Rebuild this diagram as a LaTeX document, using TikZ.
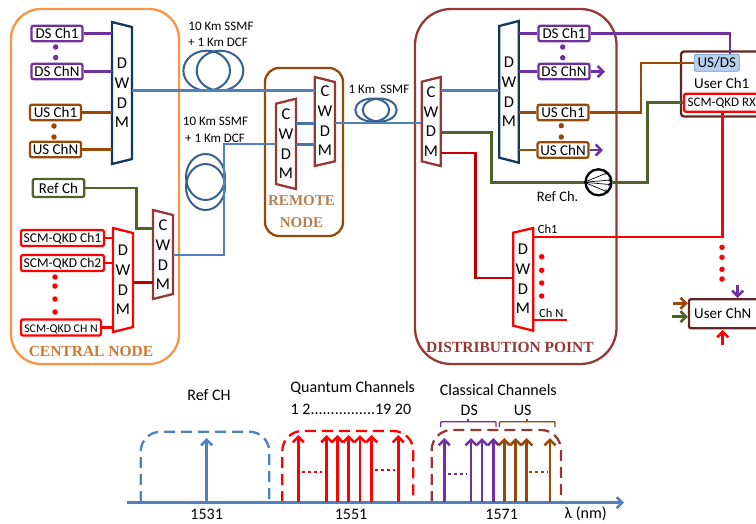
\documentclass[tikz,border=0pt]{standalone}
\usepackage{fontspec}
\setmainfont{Carlito}
\newfontfamily\titlefont{Liberation Serif}
\usetikzlibrary{arrows.meta}
\definecolor{dspurple}{HTML}{7030A0}
\definecolor{usbrown}{HTML}{984807}
\definecolor{refgreen}{HTML}{4F6228}
\definecolor{wine}{HTML}{953735}
\definecolor{navyc}{HTML}{17365D}
\definecolor{orangec}{HTML}{F79646}
\definecolor{bluec}{HTML}{4F81BD}
\definecolor{coilc}{HTML}{376092}
\definecolor{darkredc}{HTML}{C00000}
\definecolor{userc}{HTML}{632523}
\definecolor{usdsfill}{HTML}{B9CFF0}
\tikzset{
  chbox/.style={draw,rounded corners=2pt,line width=2.3pt,fill=white,inner sep=0pt,minimum height=15.5pt,text height=10pt,text depth=0pt,font=\fontsize{15}{15}\selectfont},
  scmbox/.style={chbox,draw=red,font=\fontsize{13.5}{14}\selectfont,text height=9pt,minimum height=16pt},
  muxtext/.style={inner sep=0pt,minimum width=20pt,align=center,font=\fontsize{16.5}{19.7}\selectfont},
  muxline/.style={line width=2.3pt,line join=miter,fill=white},
  dot/.style={fill,circle,inner sep=0pt,minimum size=5.5pt},
  link/.style={line width=2.6pt},
  coil/.style={draw=coilc,line width=2pt},
  tip/.style={-{Straight Barb[length=5.5pt,width=11pt,line width=2.6pt]}},
  lbl/.style={inner sep=0pt,font=\fontsize{13}{14}\selectfont},
  spec/.style={inner sep=0pt,font=\fontsize{16}{17}\selectfont},
  title/.style={inner sep=0pt,font=\titlefont\bfseries\fontsize{15.5}{16}\selectfont},
  rail/.style={line width=2.3pt,dash pattern=on 11pt off 6pt,rounded corners=20pt},
  gap/.style={line width=2.3pt,dash pattern=on 3pt off 3pt},
}
\begin{document}
\begin{tikzpicture}[x=1pt,y=-1pt]
\useasboundingbox (0,0) rectangle (756,523);
\clip (0,0) rectangle (756,523);
\draw[orangec,line width=2.3pt,rounded corners=30pt] (11,9) rectangle (179,364);
\draw[usbrown,line width=2.3pt,rounded corners=14pt] (265,68) rectangle (343,236);
\draw[wine,line width=2.3pt,rounded corners=36pt] (415,9) rectangle (616.5,364);
\node[title,text=orangec!60!usbrown] (centraltxt) at (91,351) {CENTRAL NODE};
\node[title,text=usbrown!70!white,font=\titlefont\bfseries\fontsize{15}{16}\selectfont] (remotetxt) at (301.5,201) {REMOTE};
\node[title,text=usbrown!70!white,font=\titlefont\bfseries\fontsize{15}{16}\selectfont] (remotetxtb) at (301.5,223) {NODE};
\node[title,text=wine] (disttxt) at (510,347) {DISTRIBUTION POINT};

\draw[coil] (206.7,70.7) ellipse [x radius=23.3pt,y radius=20pt];
\draw[coil] (220,70.7) ellipse [x radius=23.3pt,y radius=20pt];
\draw[coil] (205.5,177) ellipse [x radius=19.5pt,y radius=23pt];
\draw[coil] (205.5,187) ellipse [x radius=19.5pt,y radius=23pt];
\draw[coil] (372.3,110) ellipse [x radius=17pt,y radius=11.5pt];
\draw[coil] (379.7,110) ellipse [x radius=17pt,y radius=11.5pt];
\node[lbl] (spanAa) at (221,26) {10 Km SSMF};
\node[lbl] (spanAb) at (218,42) {+ 1 Km DCF};
\node[lbl] (spanBa) at (215.5,121) {10 Km SSMF};
\node[lbl] (spanBb) at (215,138) {+ 1 Km DCF};
\node[lbl] (spanC) at (379,89.5) {1 Km\, SSMF};

\draw[muxline,draw=navyc] (112,22) -- (132,27) -- (132,159) -- (112,164) -- cycle;
\draw[muxline,draw=red] (113,228) -- (133,233) -- (133,327) -- (113,332) -- cycle;
\draw[muxline,draw=wine] (153,210) -- (173,215) -- (173,294) -- (153,299) -- cycle;
\draw[muxline,draw=wine] (276,103.7) -- (296,98.7) -- (296,189) -- (276,184) -- cycle;
\draw[muxline,draw=wine] (314.7,77) -- (335,82) -- (335,161.3) -- (314.7,166) -- cycle;
\draw[muxline,draw=wine] (421.7,81.7) -- (440.7,77) -- (440.7,166) -- (421.7,161.3) -- cycle;
\draw[muxline,draw=navyc] (499.3,26) -- (518.7,21) -- (518.7,162.7) -- (499.3,157.7) -- cycle;
\draw[muxline,draw=red] (513.3,232.7) -- (533.3,228) -- (533.3,330.7) -- (513.3,325.7) -- cycle;
\node[muxtext] (dwdmA) at (122,93) {D\\W\\D\\M};
\node[muxtext] (dwdmB) at (123,280) {D\\W\\D\\M};
\node[muxtext] (cwdmA) at (163,255) {C\\W\\D\\M};
\node[muxtext] (cwdmL) at (286,144) {C\\W\\D\\M};
\node[muxtext] (cwdmR) at (325,121) {C\\W\\D\\M};
\node[muxtext] (cwdmD) at (431,121.5) {C\\W\\D\\M};
\node[muxtext] (dwdmD) at (509,92) {D\\W\\D\\M};
\node[muxtext] (dwdmQ) at (523,279) {D\\W\\D\\M};

\node[chbox,draw=dspurple,minimum width=51pt] (dsa) at (57,33.5) {DS Ch1};
\node[chbox,draw=dspurple,minimum width=51pt] (dsn) at (57,71.5) {DS ChN};
\node[chbox,draw=usbrown,minimum width=51pt] (usa) at (55.5,112.5) {US Ch1};
\node[chbox,draw=usbrown,minimum width=51pt] (usn) at (55.5,149.5) {US ChN};
\node[chbox,draw=refgreen,minimum width=51.5pt,minimum height=18pt] (refa) at (58.5,188) {Ref Ch};
\node[scmbox,minimum width=83pt] (scma) at (62.5,238) {SCM-QKD Ch1};
\node[scmbox,minimum width=83pt] (scmb) at (62.5,263) {SCM-QKD Ch2};
\node[scmbox,minimum width=80pt,font=\fontsize{11.8}{12}\selectfont] (scmn) at (61,327.5) {SCM-QKD CH N};
\node[chbox,draw=dspurple,minimum width=51pt] (dsc) at (564,33.5) {DS Ch1};
\node[chbox,draw=dspurple,minimum width=51pt] (dsd) at (564,71.5) {DS ChN};
\node[chbox,draw=usbrown,minimum width=51pt] (usc) at (563,112.5) {US Ch1};
\node[chbox,draw=usbrown,minimum width=51pt] (usd) at (563,150) {US ChN};

\draw[link,dspurple] (dsa.east) -- (dsa.east -| dwdmA.west);
\draw[link,dspurple] (dsn.east) -- (dsn.east -| dwdmA.west);
\draw[link,usbrown] (usa.east) -- (usa.east -| dwdmA.west);
\draw[link,usbrown] (usn.east) -- (usn.east -| dwdmA.west);
\draw[link,red] (scma.east) -- (scma.east -| dwdmB.west);
\draw[link,red] (scmb.east) -- (scmb.east -| dwdmB.west);
\draw[link,red] (scmn.east) -- (scmn.east -| dwdmB.west);
\draw[link,refgreen] (refa.east) -| (136.7,228.7) -- (cwdmA.west |- 0,228.7);
\draw[link,darkredc] (dwdmB.east |- 0,282.5) -- (cwdmA.west |- 0,282.5);
\draw[link,bluec] (dwdmA.east |- 0,90.5) -- (cwdmR.west |- 0,90.5);
\draw[link,bluec] (cwdmA.east) -- (224,255) |- (cwdmL.west |- 0,144);
\draw[line width=3pt,bluec!90!black] (cwdmL.east |- 0,123.3) -- (cwdmR.west |- 0,123.3);
\draw[line width=3pt,bluec!90!black] (cwdmL.east |- 0,144.3) -- (cwdmR.west |- 0,144.3);
\draw[link,bluec] (cwdmR.east |- 0,123) -- (cwdmD.west |- 0,123);
\draw[link,bluec] (cwdmD.east |- 0,90.3) -- (dwdmD.west |- 0,90.3);
\draw[link,dspurple] (dwdmD.east |- dsc.west) -- (dsc.west);
\draw[link,dspurple] (dwdmD.east |- dsd.west) -- (dsd.west);
\draw[link,usbrown] (dwdmD.east |- usc.west) -- (usc.west);
\draw[link,usbrown] (dwdmD.east |- usd.west) -- (usd.west);
\draw[link,dspurple,tip] (dsd.east) -- (605,71.5);
\draw[link,dspurple,tip] (usd.east) -- (603,150);

\node[fill=white,draw=userc,line width=2.3pt,rounded corners=3pt,minimum width=100pt,minimum height=65pt] (userA) at (731,84) {};
\node[draw=red,line width=2.3pt,rounded corners=2pt,fill=white,inner sep=0pt,minimum width=90pt,minimum height=18pt] (rxA) at (729,102.7) {};
\node[inner sep=0pt,anchor=west,font=\fontsize{13}{14}\selectfont] (rxtxt) at (687.5,103) {SCM-QKD RX};
\node[draw=bluec!80!white,fill=usdsfill,line width=.8pt,rounded corners=2pt,inner sep=0pt,minimum width=45pt,minimum height=17pt,font=\fontsize{15}{15}\selectfont] (usds) at (716.8,62.8) {US/DS};
\node[inner sep=0pt,font=\fontsize{15}{15}\selectfont] (userAtxt) at (721.7,83) {User Ch1};
\node[draw=userc,line width=2.3pt,rounded corners=2pt,fill=white,inner sep=0pt,minimum width=80pt,minimum height=29pt] (userN) at (729,313.7) {};
\node[inner sep=0pt,anchor=west,font=\fontsize{15}{15}\selectfont] (userNtxt) at (694,313) {User ChN};

\draw[link,dspurple] (dsc.east) -- (730,33.5) -- (730,54.3);
\draw[link,usbrown] (usc.east) -- (641,112.5) |- (usds.west);
\draw[link,refgreen] (cwdmD.east |- 0,132.7) -- (491.7,132.7) |- (585,182.3);
\node[draw=black,circle,line width=2.3pt,inner sep=0pt,minimum size=26pt,fill=white] (splitter) at (598.5,182.3) {};
\draw[black,line width=.7pt,-{Stealth[length=4pt,width=3pt]}] (splitter.west) -- (splitter.45);
\draw[black,line width=.7pt,-{Stealth[length=4pt,width=3pt]}] (splitter.west) -- (splitter.10);
\draw[black,line width=.7pt,-{Stealth[length=4pt,width=3pt]}] (splitter.west) -- (splitter.-10);
\draw[black,line width=.7pt,-{Stealth[length=4pt,width=3pt]}] (splitter.west) -- (splitter.-45);
\draw[link,refgreen] (splitter.east) -- (647.3,182.3) |- (rxA.west);
\node[inner sep=0pt,font=\fontsize{14.5}{15}\selectfont] (reftxt) at (557.7,196.5) {Ref Ch.};
\draw[link,darkredc] (cwdmD.east |- 0,153) -- (475.7,153) |- (dwdmQ.west |- 0,278);
\draw[link,red] (dwdmQ.east |- 0,237) -- (722.7,237) -- (722.7,112.7);
\draw[link,red] (dwdmQ.east |- 0,320) -- (566.7,320);
\node[inner sep=0pt,font=\fontsize{12.5}{13}\selectfont] (chatxt) at (547.7,229) {Ch1};
\node[inner sep=0pt,font=\fontsize{12.5}{13}\selectfont] (chntxt) at (551.3,312.7) {Ch N};
\draw[link,usbrown,tip] (673.3,303.3) -- (userN.west |- 0,303.3);
\draw[link,refgreen,tip] (671.7,316.7) -- (userN.west |- 0,316.7);
\draw[link,dspurple,tip] (737.7,284.5) -- (737.7,298);
\draw[link,red,tip] (722.7,345) -- (722.7,330);

\node[dot,dspurple] (pa) at (55.7,47) {};
\node[dot,dspurple] (pb) at (55.7,57.5) {};
\node[dot,usbrown] (pc) at (54,126) {};
\node[dot,usbrown] (pd) at (54,137) {};
\node[dot,red] (pe) at (55,277) {};
\node[dot,red] (pf) at (55,286) {};
\node[dot,red] (pg) at (55,299) {};
\node[dot,red] (ph) at (55,312) {};
\node[dot,dspurple] (pi) at (562.7,47) {};
\node[dot,dspurple] (pj) at (562.7,57.7) {};
\node[dot,usbrown] (pk) at (561.3,125.7) {};
\node[dot,usbrown] (pl) at (561.3,137) {};
\node[dot,red] (pm) at (541.7,256.7) {};
\node[dot,red] (pn) at (541.7,270.3) {};
\node[dot,red] (po) at (541.7,283) {};
\node[dot,red] (pp) at (541.7,296) {};
\node[dot,red] (pq) at (722,247.3) {};
\node[dot,red] (pr) at (722,257.3) {};
\node[dot,red] (ps) at (722,269.3) {};
\node[dot,red] (pt) at (722,279) {};

\node[spec] (refch) at (209,395) {Ref CH};
\node[spec] (quant) at (352.7,388) {Quantum Channels};
\node[spec] (quantn) at (351,409) {1 2................19 20};
\node[spec] (class) at (498.3,390) {Classical Channels};
\node[spec] (dstxt) at (469.3,410) {DS};
\node[spec] (ustxt) at (522.7,410) {US};
\node[spec] (la) at (206.7,514) {1531};
\node[spec] (lb) at (351,514) {1551};
\node[spec] (lc) at (501.7,514) {1571};
\node[spec] (ld) at (585.7,514) {λ (nm)};

\draw[rail,bluec] (140.7,502) -- (140.7,431.7) -- (269.3,431.7) -- (269.3,502);
\draw[rail,red] (282.3,502) -- (282.3,431) -- (413.3,431) -- (413.3,502);
\draw[rail,wine] (431.7,502) -- (431.7,430) -- (561,430) -- (561,502);
\draw[line width=1.5pt,wine!50!white,dash pattern=on 11pt off 6pt] (290,502) -- (405,502);
\draw[line width=1.5pt,wine!50!white,dash pattern=on 11pt off 6pt] (440,502) -- (553,502);
\draw[link,bluec,tip] (127,502.7) -- (624,502.7);
\draw[link,bluec,tip] (206.7,502) -- (206.7,438);
\draw[link,red,tip] (298.3,502) -- (298.3,435);
\draw[link,red,tip] (326.7,502) -- (326.7,435);
\draw[link,red,tip] (337.3,502) -- (337.3,435);
\draw[link,red,tip] (348.7,502) -- (348.7,435);
\draw[link,red,tip] (360,502) -- (360,435);
\draw[link,red,tip] (371.7,502) -- (371.7,435);
\draw[link,red,tip] (398.3,502) -- (398.3,435);
\draw[gap,red] (301.7,471.7) -- (321.7,471.7);
\draw[gap,red] (375,470) -- (395,470);
\draw[link,dspurple,tip] (444.3,502) -- (444.3,438);
\draw[link,dspurple,tip] (471,502) -- (471,438);
\draw[link,dspurple,tip] (482,502) -- (482,438);
\draw[link,dspurple,tip] (493.3,502) -- (493.3,438);
\draw[link,usbrown,tip] (504.3,502) -- (504.3,438);
\draw[link,usbrown,tip] (515.7,502) -- (515.7,438);
\draw[link,usbrown,tip] (526.7,502) -- (526.7,438);
\draw[link,usbrown,tip] (550,502) -- (550,438);
\draw[gap,dspurple] (448.3,473.7) -- (466.7,473.7);
\draw[gap,usbrown] (529,472.3) -- (547.7,472.3);
\draw[dspurple,line width=1.4pt,rounded corners=1pt] (440.7,427) -- (440.7,421.7) -- (496,421.7) -- (496,427);
\draw[dspurple,line width=1.4pt] (468,421.7) -- (468,418.5);
\draw[usbrown,line width=1.4pt,rounded corners=1pt] (499.3,427) -- (499.3,421.7) -- (555,421.7) -- (555,427);
\draw[usbrown,line width=1.4pt] (527,421.7) -- (527,418.5);
\end{tikzpicture}
\end{document}
